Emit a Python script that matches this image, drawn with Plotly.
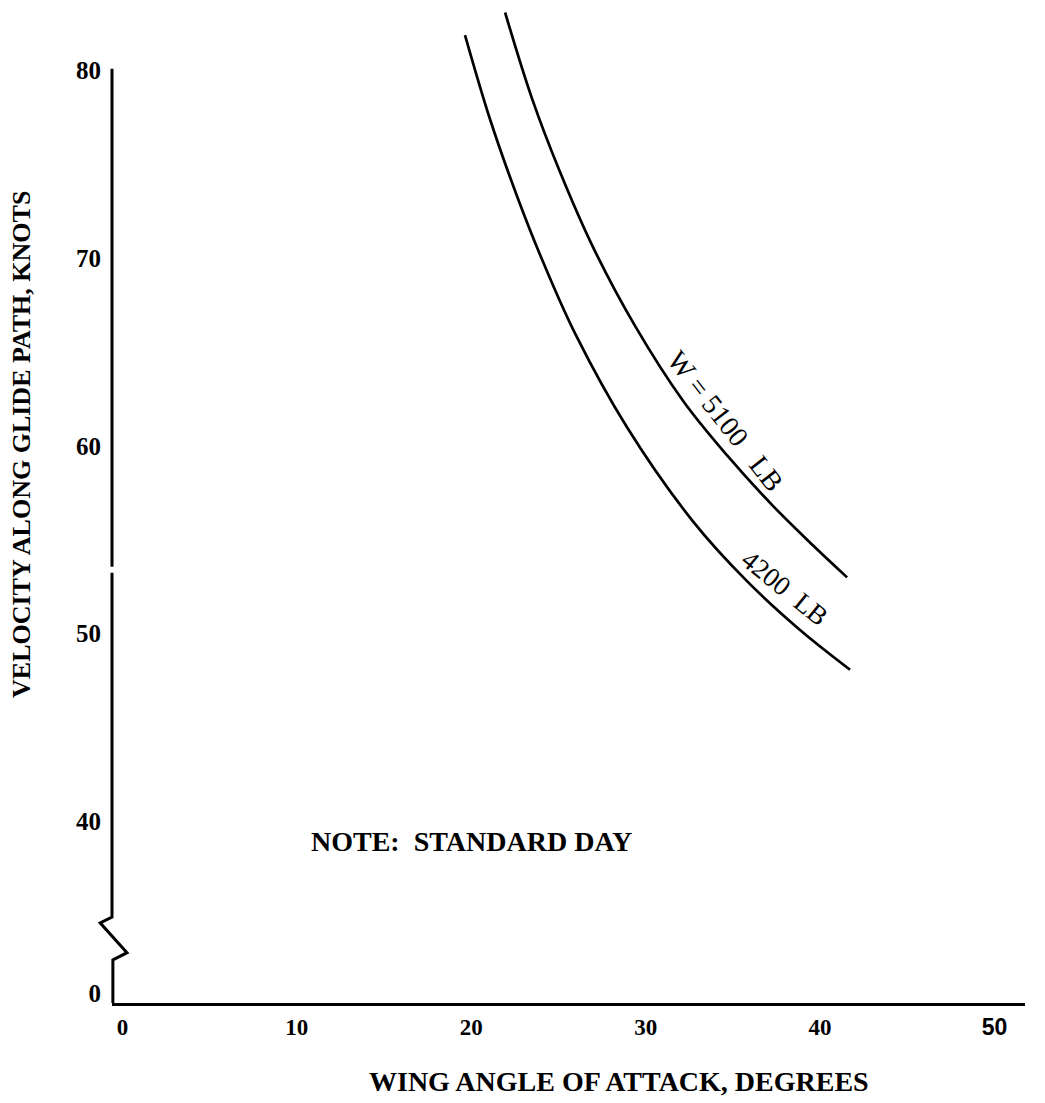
import plotly.graph_objects as go

# Wing angle of attack (deg) vs. velocity along the glide path (knots)
aoa_4200 = [19.64, 21.08, 22.63, 24.12, 25.95, 28.93, 32.70, 35.81, 38.85, 41.72]
vel_4200 = [81.90, 77.40, 73.30, 69.80, 66.00, 61.00, 56.00, 52.80, 50.20, 48.08]

aoa_5100 = [21.94, 23.49, 25.09, 26.98, 29.39, 32.15, 34.67, 37.31, 39.60, 41.55]
vel_5100 = [83.10, 78.50, 74.60, 70.60, 66.40, 62.40, 59.50, 56.80, 54.70, 53.00]

x_ticks = [0, 10, 20, 30, 40, 50]
x_labels = ["0", "10", "20", "30", "40",
            "<span style='font-family:Liberation Sans, Arial'>50</span>"]

# the velocity axis is broken below 40 kt; "0" sits just under the break
y_break_zero = 30.85
y_ticks = [y_break_zero, 40, 50, 60, 70, 80]
y_labels = ["0", "40", "50", "60", "70", "80"]

X_RANGE = [-0.6, 51.75]
Y_RANGE = [30.32, 83.5]

SERIF = "Liberation Serif, Times New Roman, serif"


def to_paper(x, y):
    px = (x - X_RANGE[0]) / (X_RANGE[1] - X_RANGE[0])
    py = (y - Y_RANGE[0]) / (Y_RANGE[1] - Y_RANGE[0])
    return px, py


fig = go.Figure()

for xs, ys in ((aoa_4200, vel_4200), (aoa_5100, vel_5100)):
    fig.add_trace(go.Scatter(
        x=xs, y=ys, mode="lines",
        line=dict(color="black", width=2.7, shape="spline", smoothing=1.0),
        showlegend=False, hoverinfo="skip",
    ))

# vertical axis with its zig-zag break mark drawn as one path
axis_x = X_RANGE[0]
upper = [(axis_x, 80.1), (axis_x, 53.56)]
middle = [(axis_x, 53.24), (axis_x, 34.90), (-1.28, 34.59), (0.26, 33.0),
          (axis_x + 0.05, 32.62), (axis_x + 0.05, Y_RANGE[0])]


def seg(points):
    parts = []
    for i, (x, y) in enumerate(points):
        px, py = to_paper(x, y)
        parts.append(("M" if i == 0 else "L") + f"{px:.5f},{py:.5f}")
    return " ".join(parts)


fig.add_shape(type="path", xref="paper", yref="paper",
              path=seg(upper) + " " + seg(middle),
              line=dict(color="black", width=3))

# curve labels
fig.add_annotation(x=34.55, y=61.35, text="W\u00a0=\u00a05100\u00a0\u00a0\u00a0LB",
                   showarrow=False, textangle=52,
                   font=dict(family=SERIF, size=28, color="black"))
fig.add_annotation(x=37.98, y=52.45, text="4200\u00a0\u00a0LB", showarrow=False,
                   textangle=39, font=dict(family=SERIF, size=27, color="black"))

fig.add_annotation(x=20.0, y=38.9, text="NOTE:\u00a0\u00a0STANDARD DAY", showarrow=False,
                   font=dict(family=SERIF, size=28, color="black", weight="bold"))

# axis titles
fig.add_annotation(xref="paper", yref="paper", x=(619 - 112) / 913, y=-0.079,
                   text="WING ANGLE OF ATTACK, DEGREES", showarrow=False,
                   font=dict(family=SERIF, size=28, color="black", weight="bold"),
                   yanchor="middle")
fig.add_annotation(xref="paper", yref="y", x=-0.0985, y=60.06,
                   text="VELOCITY ALONG GLIDE PATH, KNOTS", showarrow=False,
                   textangle=-90,
                   font=dict(family=SERIF, size=26, color="black", weight="bold"),
                   xanchor="center")

fig.update_layout(
    width=1045, height=1103,
    margin=dict(l=112, r=20, t=5, b=100),
    paper_bgcolor="white", plot_bgcolor="white",
    font=dict(family=SERIF, color="black"),
    xaxis=dict(
        range=X_RANGE, tickmode="array", tickvals=x_ticks, ticktext=x_labels,
        showline=True, linecolor="black", linewidth=3,
        showgrid=False, zeroline=False,
        ticks="outside", ticklen=1, tickcolor="rgba(0,0,0,0)",
        tickfont=dict(family=SERIF, size=23, color="black", weight="bold"),
    ),
    yaxis=dict(
        range=Y_RANGE, tickmode="array", tickvals=y_ticks, ticktext=y_labels,
        showline=False, showgrid=False, zeroline=False,
        ticks="outside", ticklen=5, tickcolor="rgba(0,0,0,0)",
        tickfont=dict(family=SERIF, size=25, color="black", weight="bold"),
    ),
)

fig.write_html("out.html")
